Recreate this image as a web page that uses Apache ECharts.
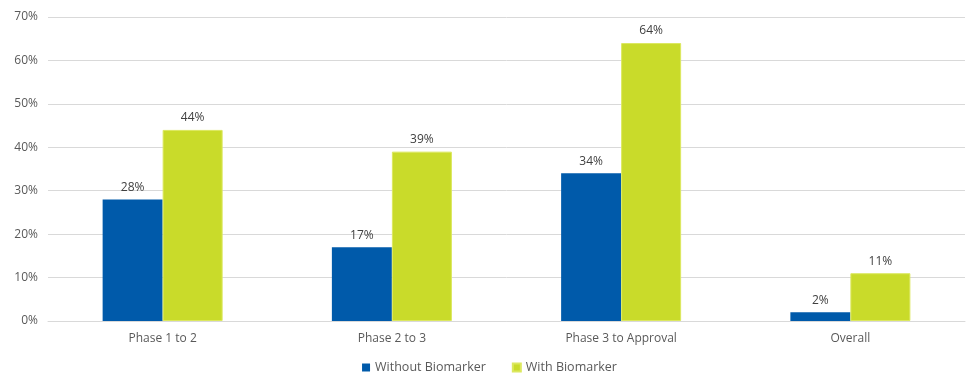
<!DOCTYPE html>
<html>
<head>
<meta charset="utf-8">
<script src="https://cdn.jsdelivr.net/npm/echarts@6/dist/echarts.min.js"></script>
<style>html,body{margin:0;padding:0;background:#fff;}#c{width:979px;height:388px;}</style>
</head>
<body>
<div id="c"></div>
<script>
const categories = ["Phase 1 to 2", "Phase 2 to 3", "Phase 3 to Approval", "Overall"];
const withoutBiomarker = [28, 17, 34, 2];
const withBiomarker = [44, 39, 64, 11];
const seriesNames = ["Without Biomarker", "With Biomarker"];

const font = "'Open Sans', 'Noto Sans', sans-serif";
const chart = echarts.init(document.getElementById('c'));
const lbl = {show: true, position: 'top', formatter: '{c}%', color: '#404040', fontSize: 12, fontFamily: font, distance: 6};
chart.setOption({
  animation: false,
  textStyle: {fontFamily: font},
  grid: {left: 48, right: 14, top: 17, bottom: 67, containLabel: false},
  legend: {
    bottom: 9, left: 'center', itemWidth: 8, itemHeight: 8, itemGap: 26, icon: 'rect',
    textStyle: {color: '#595959', fontSize: 12.5, fontFamily: font},
    data: seriesNames
  },
  xAxis: {
    type: 'category', data: categories,
    axisLine: {lineStyle: {color: '#d9d9d9'}}, axisTick: {show: false},
    axisLabel: {color: '#595959', fontSize: 12, fontFamily: font, margin: 12}
  },
  yAxis: {
    type: 'value', min: 0, max: 70, interval: 10,
    axisLabel: {formatter: '{value}%', color: '#595959', fontSize: 12, fontFamily: font, margin: 10},
    axisLine: {show: false}, axisTick: {show: false},
    splitLine: {lineStyle: {color: '#d9d9d9'}}
  },
  series: [
    {name: seriesNames[0], type: 'bar', data: withoutBiomarker, barWidth: 60, barGap: '0%', itemStyle: {color: '#005AAA'}, label: lbl},
    {name: seriesNames[1], type: 'bar', data: withBiomarker, barWidth: 60, barGap: '0%', itemStyle: {color: '#C9DB2A', borderColor: '#DCE85F', borderWidth: 1}, label: lbl}
  ]
});
</script>
</body>
</html>
